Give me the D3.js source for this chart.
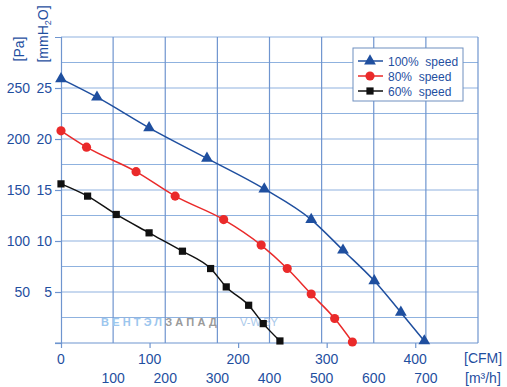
<!DOCTYPE html>
<html>
<head>
<meta charset="utf-8">
<script src="https://cdn.jsdelivr.net/npm/d3@7"></script>
<style>
  body { margin: 0; background: #fff; }
  text { font-family: "Liberation Sans", Arial, sans-serif; }
</style>
</head>
<body>
<div id="chart"></div>
<script>
// flow in m3/h, pressure in Pa
const flow100 = [0, 69, 169, 280, 390, 480, 541, 601, 652, 697];
const pa100 = [259, 241, 211, 181, 151, 121, 91, 61, 30, 2];
const flow80 = [0, 49, 144, 219, 312, 384, 434, 480, 525, 559];
const pa80 = [208, 192, 168, 144, 121, 96, 73, 48, 24, 1];
const flow60 = [0, 51, 106, 169, 233, 287, 317, 360, 388, 420];
const pa60 = [156, 144, 126, 108, 90, 73, 55, 37, 19, 2];

const seriesNames = ["100%  speed", "80%  speed", "60%  speed"];
const paTicks = [50, 100, 150, 200, 250];
const mmTicks = [5, 10, 15, 20, 25];
const cfmTicks = [0, 100, 200, 300, 400];
const m3hTicks = [100, 200, 300, 400, 500, 600, 700];

let w = 507, h = 387;
let padL = 61, padR = 478, padT = 37, padB = 343;
let blue = "#1f4f9f", txt = "#1f4f9f";

let svg = d3.select("#chart").append("svg")
  .attr("width", w).attr("height", h);

let xScale = d3.scaleLinear().domain([0, 800]).range([padL, padR]);
let cfmScale = d3.scaleLinear().domain([0, 800 / 1.699]).range([padL, padR]);
let yScale = d3.scaleLinear().domain([0, 300]).range([padB, padT]);
let mmScale = d3.scaleLinear().domain([0, 30]).range([padB, padT]);

// grid
let grid = svg.append("g");
grid.selectAll(".hg").data(d3.range(25, 301, 25)).enter().append("line")
  .attr("x1", padL).attr("x2", padR)
  .attr("y1", d => yScale(d)).attr("y2", d => yScale(d))
  .attr("stroke", "#8fb2df").attr("stroke-width", 1.2);
grid.selectAll(".vg").data(d3.range(100, 801, 100)).enter().append("line")
  .attr("x1", d => xScale(d)).attr("x2", d => xScale(d))
  .attr("y1", padT).attr("y2", padB)
  .attr("stroke", "#6f95cf").attr("stroke-width", 1.2);

// left axes (Pa + mmH2O)
let yAxis = d3.axisLeft(yScale).tickValues([0].concat(paTicks)).tickSize(6).tickFormat("");
let gy = svg.append("g").attr("transform", "translate(" + padL + ",0)").call(yAxis);
gy.select(".domain").attr("stroke", "#6f95cf").attr("stroke-width", 1.2);
gy.selectAll("line").attr("stroke", "#6f95cf").attr("stroke-width", 1.2);

svg.selectAll(".paLab").data(paTicks).enter().append("text")
  .attr("x", 30).attr("y", d => yScale(d) + 5)
  .attr("text-anchor", "end").attr("font-size", 14).attr("fill", txt)
  .text(d => d);
svg.selectAll(".mmLab").data(mmTicks).enter().append("text")
  .attr("x", 52).attr("y", d => mmScale(d) + 5)
  .attr("text-anchor", "end").attr("font-size", 14).attr("fill", txt)
  .text(d => d);

// bottom axes (CFM + m3/h)
let xAxis = d3.axisBottom(cfmScale).tickValues(cfmTicks).tickSize(5).tickFormat("");
let gx = svg.append("g").attr("transform", "translate(0," + padB + ")").call(xAxis);
gx.select(".domain").attr("stroke", "#6f95cf").attr("stroke-width", 1.2)
  .attr("d", "M" + (padL - 6) + ",0H" + padR);
gx.selectAll("line").attr("stroke", "#6f95cf").attr("stroke-width", 1.2);

svg.selectAll(".cfmLab").data(cfmTicks).enter().append("text")
  .attr("x", d => cfmScale(d)).attr("y", 364)
  .attr("text-anchor", "middle").attr("font-size", 14).attr("fill", txt)
  .text(d => d);
svg.selectAll(".m3Lab").data(m3hTicks).enter().append("text")
  .attr("x", d => xScale(d)).attr("y", 383)
  .attr("text-anchor", "middle").attr("font-size", 14).attr("fill", txt)
  .text(d => d);

// axis titles
svg.append("text").attr("transform", "translate(24,49) rotate(-90)")
  .attr("text-anchor", "middle").attr("font-size", 14).attr("fill", txt).text("[Pa]");
let mmT = svg.append("text").attr("transform", "translate(48,34) rotate(-90)")
  .attr("text-anchor", "middle").attr("font-size", 14).attr("fill", txt);
mmT.append("tspan").text("[mmH");
mmT.append("tspan").attr("font-size", 9).attr("dy", 3).text("2");
mmT.append("tspan").attr("dy", -3).text("O]");
svg.append("text").attr("x", 464).attr("y", 363)
  .attr("font-size", 14).attr("fill", txt).text("[CFM]");
svg.append("text").attr("x", 465).attr("y", 383)
  .attr("font-size", 14).attr("fill", txt).text("[m³/h]");

// watermark
let wm = svg.append("text").attr("x", 101).attr("y", 326)
  .attr("font-size", 11).attr("font-weight", "bold").attr("letter-spacing", 3.2);
wm.append("tspan").attr("fill", "#9cc6ee").text("ВЕНТЭЛ");
wm.append("tspan").attr("fill", "#9a9a9a").text("ЗАПАД");
svg.append("text").attr("x", 240).attr("y", 326).attr("font-size", 11)
  .attr("fill", "#a8c8ea").text("V-W.BY");

// curves
let series = [
  { flow: flow100, pa: pa100, color: blue, marker: d3.symbolTriangle, size: 60 },
  { flow: flow80, pa: pa80, color: "#ea2a2a", marker: d3.symbolCircle, size: 66 },
  { flow: flow60, pa: pa60, color: "#111111", marker: d3.symbolSquare, size: 52 }
];

let line = d3.line()
  .x(d => xScale(d[0]))
  .y(d => yScale(d[1]))
  .curve(d3.curveMonotoneX);

series.forEach(s => {
  let pts = s.flow.map((f, i) => [f, s.pa[i]]);
  svg.append("path").datum(pts)
    .attr("d", line).attr("fill", "none")
    .attr("stroke", s.color).attr("stroke-width", 1.5);
  svg.selectAll(null).data(pts).enter().append("path")
    .attr("d", d3.symbol().type(s.marker).size(s.size))
    .attr("transform", d => "translate(" + xScale(d[0]) + "," + yScale(d[1]) + ")")
    .attr("fill", s.color);
});

// legend
let lg = svg.append("g");
lg.append("rect").attr("x", 353).attr("y", 48).attr("width", 110).attr("height", 53)
  .attr("fill", "#fff").attr("stroke", "#6f8fbf").attr("stroke-width", 1);
series.forEach((s, i) => {
  let yy = 61 + i * 15;
  lg.append("line").attr("x1", 358).attr("x2", 383).attr("y1", yy).attr("y2", yy)
    .attr("stroke", s.color).attr("stroke-width", 1.5);
  lg.append("path").attr("d", d3.symbol().type(s.marker).size(s.size))
    .attr("transform", "translate(370," + yy + ")").attr("fill", s.color);
  lg.append("text").attr("x", 388).attr("y", yy + 4.5)
    .attr("font-size", 12).attr("fill", txt).style("white-space", "pre")
    .text(seriesNames[i]);
});
</script>
</body>
</html>
